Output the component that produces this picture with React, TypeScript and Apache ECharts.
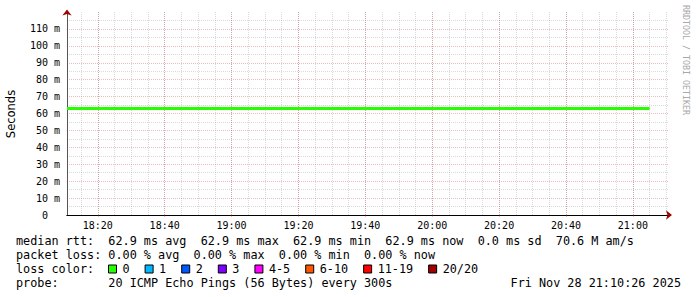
import { useEffect, useRef } from "react";
import * as echarts from "echarts";

// ---- data ----
const startTime = "18:10:48";
const endTime = "21:10:48";
const rttTimes = [
  "18:10:48", "18:15", "18:20", "18:25", "18:30", "18:35", "18:40", "18:45", "18:50", "18:55",
  "19:00", "19:05", "19:10", "19:15", "19:20", "19:25", "19:30", "19:35", "19:40", "19:45",
  "19:50", "19:55", "20:00", "20:05", "20:10", "20:15", "20:20", "20:25", "20:30", "20:35",
  "20:40", "20:45", "20:50", "20:55", "21:00", "21:05",
];
const rttValues = [
  62.9, 62.9, 62.9, 62.9, 62.9, 62.9, 62.9, 62.9, 62.9, 62.9,
  62.9, 62.9, 62.9, 62.9, 62.9, 62.9, 62.9, 62.9, 62.9, 62.9,
  62.9, 62.9, 62.9, 62.9, 62.9, 62.9, 62.9, 62.9, 62.9, 62.9,
  62.9, 62.9, 62.9, 62.9, 62.9, 62.9,
];
const xMajorLabels = ["18:20", "18:40", "19:00", "19:20", "19:40", "20:00", "20:20", "20:40", "21:00"];
const yLabelValues = [0, 10, 20, 30, 40, 50, 60, 70, 80, 90, 100, 110];
const yMajorGrid = [10, 20, 30, 40, 50, 60, 70, 80, 90, 100, 110];
const yMinorGrid = [5, 15, 25, 35, 45, 55, 65, 75, 85, 95, 105, 115];
const yMax = 120;

const lossLabels = ["0", "1", "2", "3", "4-5", "6-10", "11-19", "20/20"];
const lossColors = ["#26ff00", "#00b8ff", "#0059ff", "#7e00ff", "#ff00ff", "#ff5500", "#ff0000", "#a10000"];

const rttStats = { avg: 62.9, max: 62.9, min: 62.9, now: 62.9, sd: 0.0, amS: "70.6 M" };
const lossStats = { avg: 0.0, max: 0.0, min: 0.0, now: 0.0 };
const probeText = "20 ICMP Echo Pings (56 Bytes) every 300s";
const dateText = "Fri Nov 28 21:10:26 2025";

// ---- helpers ----
const toSec = (t: string) => {
  const p = t.split(":").map(Number);
  return p[0] * 3600 + p[1] * 60 + (p[2] || 0);
};
const fmtHM = (s: number) => {
  const h = Math.floor(s / 3600);
  const m = Math.floor((s % 3600) / 60);
  return `${String(h).padStart(2, "0")}:${String(m).padStart(2, "0")}`;
};

const MONO = "DejaVu Sans Mono";
const MAJOR = "rgba(200,60,60,0.35)";
const MINOR = "rgba(150,150,150,0.35)";

export default function App() {
  const ref = useRef<HTMLDivElement>(null);

  useEffect(() => {
    if (!ref.current) return;
    const chart = echarts.init(ref.current, undefined, { renderer: "svg" });

    const xMin = toSec(startTime);
    const xMax = toSec(endTime);
    const xMajor = xMajorLabels.map(toSec);
    const xMinor: number[] = [];
    for (let s = Math.ceil(xMin / 300) * 300; s <= xMax; s += 300) xMinor.push(s);

    const row1 =
      `median rtt:  ${rttStats.avg.toFixed(1)} ms avg  ${rttStats.max.toFixed(1)} ms max  ` +
      `${rttStats.min.toFixed(1)} ms min  ${rttStats.now.toFixed(1)} ms now  ` +
      `${rttStats.sd.toFixed(1)} ms sd  ${rttStats.amS} am/s`;
    const row2 =
      `packet loss: ${lossStats.avg.toFixed(2)} % avg  ${lossStats.max.toFixed(2)} % max  ` +
      `${lossStats.min.toFixed(2)} % min  ${lossStats.now.toFixed(2)} % now`;
    const row3 = "loss color:";
    const row4 = `probe:       ${probeText}`;

    const textStyle = (x: number, y: number, text: string, align = "left") => ({
      type: "text",
      x,
      y,
      silent: true,
      style: {
        text,
        fill: "#000",
        font: `11.8px "${MONO}"`,
        textAlign: align,
        textVerticalAlign: "middle",
      },
    });

    const option: any = {
      animation: false,
      backgroundColor: "#ffffff",
      grid: { left: 67, right: 28, top: 12, bottom: 82, outerBoundsMode: "none", containLabel: false },
      xAxis: [
        {
          type: "value",
          position: "bottom",
          min: xMin,
          max: xMax,
          axisLine: {
            show: true,
            onZero: false,
            lineStyle: { color: "#a00000", width: 1 },
            symbol: ["none", "arrow"],
            symbolSize: [7, 6],
            symbolOffset: [0, 3],
          },
          axisTick: { show: false, customValues: xMinor },
          splitLine: { show: true, lineStyle: { color: MINOR, type: [1, 1], width: 1 } },
          axisLabel: { show: false },
        },
        {
          type: "value",
          position: "bottom",
          min: xMin,
          max: xMax,
          axisLine: { show: true, onZero: false, lineStyle: { color: "#000", width: 1 } },
          axisTick: { show: true, customValues: xMajor, length: 2, lineStyle: { color: MAJOR } },
          splitLine: { show: true, lineStyle: { color: MAJOR, type: [1, 1], width: 1 } },
          axisLabel: {
            show: true,
            customValues: xMajor,
            formatter: (v: number) => fmtHM(v),
            fontFamily: MONO,
            fontSize: 10,
            color: "#000",
            margin: 5,
          },
        },
      ],
      yAxis: [
        {
          type: "value",
          position: "left",
          min: 0,
          max: yMax,
          axisLine: {
            show: true,
            onZero: false,
            lineStyle: { color: "#a00000", width: 1 },
            symbol: ["none", "arrow"],
            symbolSize: [7, 6],
            symbolOffset: [0, 2.5],
          },
          axisTick: { show: false, customValues: yMinorGrid },
          splitLine: { show: true, lineStyle: { color: MINOR, type: [1, 1], width: 1 } },
          axisLabel: { show: false },
        },
        {
          type: "value",
          position: "left",
          min: 0,
          max: yMax,
          axisLine: { show: true, onZero: false, lineStyle: { color: "#555", width: 1 } },
          axisTick: { show: false, customValues: yMajorGrid },
          splitLine: { show: true, lineStyle: { color: MAJOR, type: [1, 1], width: 1 } },
          axisLabel: {
            show: true,
            customValues: yLabelValues,
            formatter: (v: number) => (v === 0 ? "{z|0}" : `${v} m`),
            fontFamily: MONO,
            fontSize: 10,
            color: "#000",
            margin: 7,
            rich: { z: { fontFamily: MONO, fontSize: 10, color: "#000", padding: [0, 12, 0, 0] } },
          },
        },
      ],
      legend: {
        left: 108,
        top: 263,
        icon: "rect",
        itemWidth: 8,
        itemHeight: 8,
        itemGap: 15,
        selectedMode: false,
        padding: 0,
        itemStyle: { borderColor: "#000", borderWidth: 1 },
        textStyle: { fontFamily: MONO, fontSize: 11.8, color: "#000", padding: [0, 0, 0, 1] },
        data: lossLabels,
      },
      series: [
        {
          type: "line",
          xAxisIndex: 1,
          yAxisIndex: 1,
          data: rttTimes.map((t, i) => [toSec(t), rttValues[i]]),
          showSymbol: false,
          symbol: "none",
          lineStyle: { color: lossColors[0], width: 3 },
          itemStyle: { color: lossColors[0] },
          z: 5,
        },
        ...lossLabels.map((name, i) => ({
          type: "scatter",
          name,
          xAxisIndex: 1,
          yAxisIndex: 1,
          data: [],
          itemStyle: { color: lossColors[i], opacity: 1 },
        })),
      ],
      graphic: [
        {
          type: "text",
          x: 11,
          y: 114,
          rotation: Math.PI / 2,
          silent: true,
          style: {
            text: "Seconds",
            fill: "#000",
            font: `11.5px "DejaVu Sans"`,
            textAlign: "center",
            textVerticalAlign: "middle",
          },
        },
        textStyle(16, 241, row1),
        textStyle(16, 255, row2),
        textStyle(16, 269, row3),
        textStyle(16, 283, row4),
        textStyle(681, 283, dateText, "right"),
        {
          type: "text",
          x: 686,
          y: 5,
          rotation: -Math.PI / 2,
          silent: true,
          style: {
            text: "RRDTOOL / TOBI OETIKER",
            fill: "#a8a8a8",
            font: `8.3px "${MONO}"`,
            textAlign: "left",
            textVerticalAlign: "middle",
          },
        },
      ],
    };

    chart.setOption(option);
    return () => chart.dispose();
  }, []);

  return (
    <div
      ref={ref}
      style={{ position: "fixed", left: 0, top: 0, width: 697, height: 297, background: "#fff" }}
    />
  );
}
